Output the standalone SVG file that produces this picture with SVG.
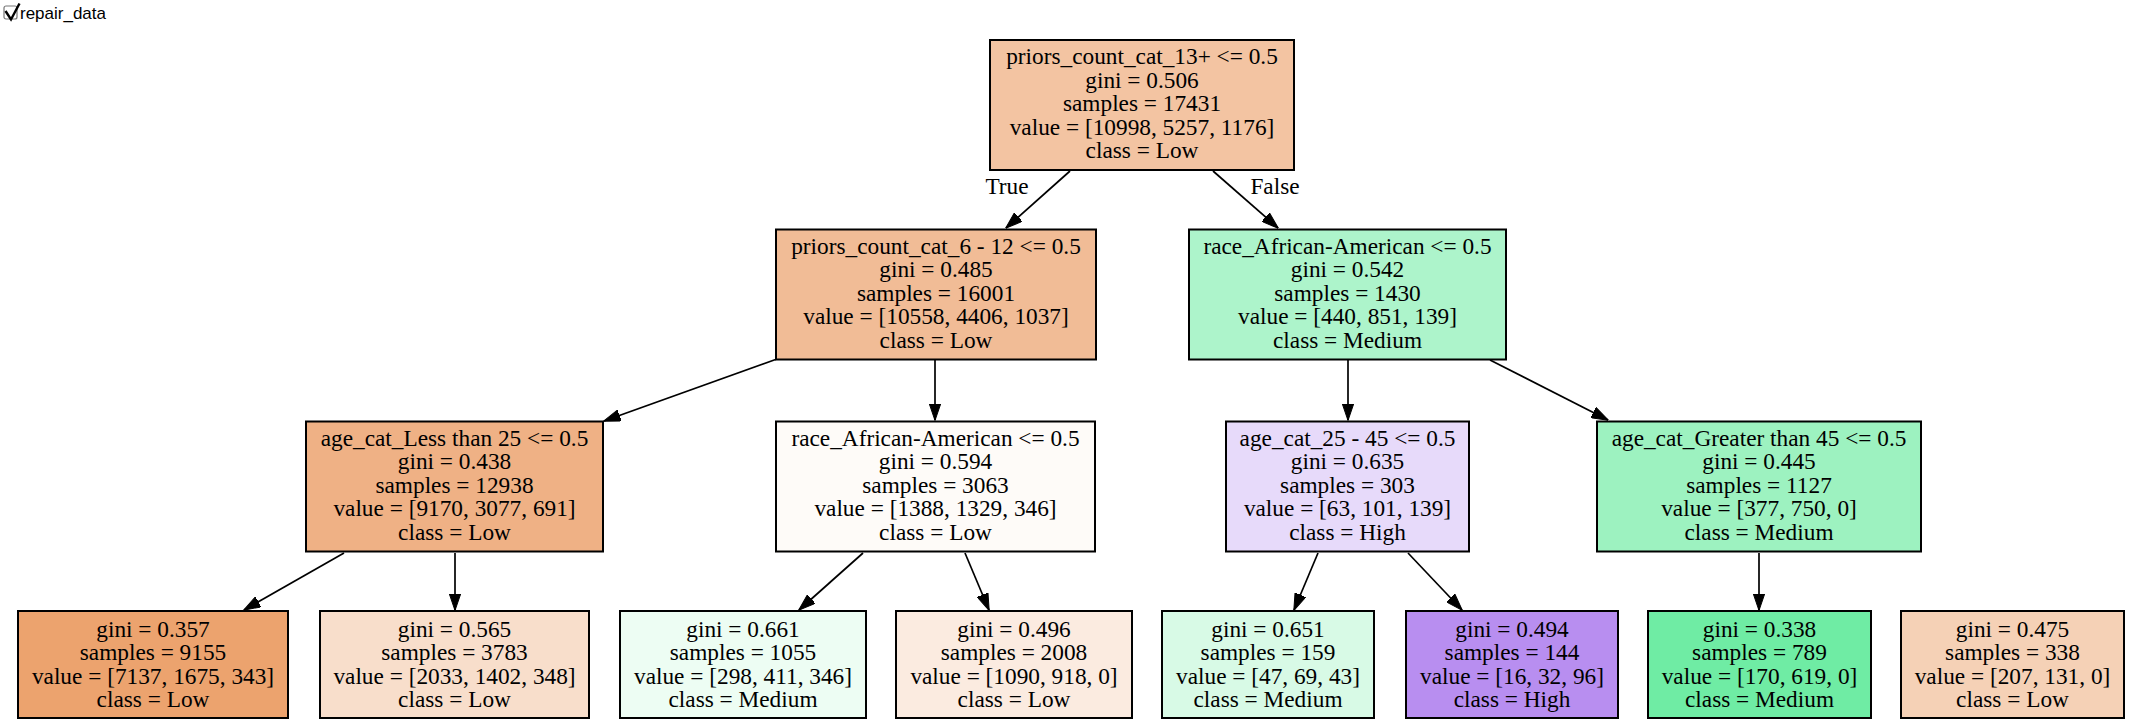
<svg xmlns="http://www.w3.org/2000/svg" width="2130" height="726" viewBox="0 0 2130 726">
  <style>
    .box { stroke: #000; stroke-width: 2; }
    .lbl { font-family: "Liberation Serif", "Times New Roman", serif; font-size: 23.3px; fill: #000; text-anchor: middle; }
    .edge { fill: none; stroke: #000; stroke-width: 1.7; marker-end: url(#arrow); }
    .hdr { font-family: "Liberation Sans", Arial, sans-serif; font-size: 17px; fill: #000; }
  </style>
  <defs>
    <marker id="arrow" viewBox="0 0 17 12" refX="16.5" refY="6" markerWidth="17" markerHeight="12" markerUnits="userSpaceOnUse" orient="auto">
      <path d="M0,0.2 L17,6 L0,11.8 Z" fill="#000" stroke="#000" stroke-width="1"/>
    </marker>
  </defs>
  <rect width="2130" height="726" fill="#fff"/>

  <!-- header checkbox -->
  <g id="header">
    <rect x="4" y="6" width="13" height="13" rx="2" fill="#fff" stroke="#767676" stroke-width="1.2"/>
    <path d="M5.5,11 L11,19.5 L19.5,3.5" fill="none" stroke="#000" stroke-width="2.4" stroke-linejoin="miter"/>
    <text class="hdr" x="20" y="19">repair_data</text>
  </g>

  <!-- connectors -->
  <g id="edges">
    <path class="edge" d="M1070,171 L1006,228"/>
    <path class="edge" d="M1213,171 L1278,228"/>
    <path class="edge" d="M777,359 L604,421"/>
    <path class="edge" d="M935,360 L935,420"/>
    <path class="edge" d="M1348,360 L1348,420"/>
    <path class="edge" d="M1490,360 L1608,420"/>
    <path class="edge" d="M344,553 L244,610"/>
    <path class="edge" d="M455,553 L455,610"/>
    <path class="edge" d="M863,553 L799,610"/>
    <path class="edge" d="M965,553 L989,610"/>
    <path class="edge" d="M1318,553 L1294,610"/>
    <path class="edge" d="M1408,553 L1462,610"/>
    <path class="edge" d="M1759,553 L1759,610"/>
    <text class="lbl" x="1007" y="194">True</text>
    <text class="lbl" x="1275" y="194">False</text>
  </g>

  <!-- root -->
  <g id="n0">
    <rect class="box" x="990" y="40" width="304" height="130" fill="#f3c4a2"/>
    <text class="lbl" x="1142" y="64">priors_count_cat_13+ &lt;= 0.5</text>
    <text class="lbl" x="1142" y="87.5">gini = 0.506</text>
    <text class="lbl" x="1142" y="111">samples = 17431</text>
    <text class="lbl" x="1142" y="134.5">value = [10998, 5257, 1176]</text>
    <text class="lbl" x="1142" y="158">class = Low</text>
  </g>

  <!-- level 1 -->
  <g id="n1">
    <rect class="box" x="776" y="229.5" width="320" height="130" fill="#f1bc96"/>
    <text class="lbl" x="936" y="253.5">priors_count_cat_6 - 12 &lt;= 0.5</text>
    <text class="lbl" x="936" y="277">gini = 0.485</text>
    <text class="lbl" x="936" y="300.5">samples = 16001</text>
    <text class="lbl" x="936" y="324">value = [10558, 4406, 1037]</text>
    <text class="lbl" x="936" y="347.5">class = Low</text>
  </g>
  <g id="n8">
    <rect class="box" x="1189" y="229.5" width="317" height="130" fill="#adf4cb"/>
    <text class="lbl" x="1347.5" y="253.5">race_African-American &lt;= 0.5</text>
    <text class="lbl" x="1347.5" y="277">gini = 0.542</text>
    <text class="lbl" x="1347.5" y="300.5">samples = 1430</text>
    <text class="lbl" x="1347.5" y="324">value = [440, 851, 139]</text>
    <text class="lbl" x="1347.5" y="347.5">class = Medium</text>
  </g>

  <!-- level 2 -->
  <g id="n2">
    <rect class="box" x="306" y="421.5" width="297" height="130" fill="#efb185"/>
    <text class="lbl" x="454.5" y="445.5">age_cat_Less than 25 &lt;= 0.5</text>
    <text class="lbl" x="454.5" y="469">gini = 0.438</text>
    <text class="lbl" x="454.5" y="492.5">samples = 12938</text>
    <text class="lbl" x="454.5" y="516">value = [9170, 3077, 691]</text>
    <text class="lbl" x="454.5" y="539.5">class = Low</text>
  </g>
  <g id="n5">
    <rect class="box" x="776" y="421.5" width="319" height="130" fill="#fefbf8"/>
    <text class="lbl" x="935.5" y="445.5">race_African-American &lt;= 0.5</text>
    <text class="lbl" x="935.5" y="469">gini = 0.594</text>
    <text class="lbl" x="935.5" y="492.5">samples = 3063</text>
    <text class="lbl" x="935.5" y="516">value = [1388, 1329, 346]</text>
    <text class="lbl" x="935.5" y="539.5">class = Low</text>
  </g>
  <g id="n9">
    <rect class="box" x="1226" y="421.5" width="243" height="130" fill="#e7dafa"/>
    <text class="lbl" x="1347.5" y="445.5">age_cat_25 - 45 &lt;= 0.5</text>
    <text class="lbl" x="1347.5" y="469">gini = 0.635</text>
    <text class="lbl" x="1347.5" y="492.5">samples = 303</text>
    <text class="lbl" x="1347.5" y="516">value = [63, 101, 139]</text>
    <text class="lbl" x="1347.5" y="539.5">class = High</text>
  </g>
  <g id="n12">
    <rect class="box" x="1597" y="421.5" width="324" height="130" fill="#9df2c0"/>
    <text class="lbl" x="1759" y="445.5">age_cat_Greater than 45 &lt;= 0.5</text>
    <text class="lbl" x="1759" y="469">gini = 0.445</text>
    <text class="lbl" x="1759" y="492.5">samples = 1127</text>
    <text class="lbl" x="1759" y="516">value = [377, 750, 0]</text>
    <text class="lbl" x="1759" y="539.5">class = Medium</text>
  </g>

  <!-- leaves -->
  <g id="n3">
    <rect class="box" x="18" y="611" width="270" height="107" fill="#eca36e"/>
    <text class="lbl" x="153" y="636.5">gini = 0.357</text>
    <text class="lbl" x="153" y="660">samples = 9155</text>
    <text class="lbl" x="153" y="683.5">value = [7137, 1675, 343]</text>
    <text class="lbl" x="153" y="707">class = Low</text>
  </g>
  <g id="n4">
    <rect class="box" x="320" y="611" width="269" height="107" fill="#f8decb"/>
    <text class="lbl" x="454.5" y="636.5">gini = 0.565</text>
    <text class="lbl" x="454.5" y="660">samples = 3783</text>
    <text class="lbl" x="454.5" y="683.5">value = [2033, 1402, 348]</text>
    <text class="lbl" x="454.5" y="707">class = Low</text>
  </g>
  <g id="n6">
    <rect class="box" x="620" y="611" width="246" height="107" fill="#edfdf3"/>
    <text class="lbl" x="743" y="636.5">gini = 0.661</text>
    <text class="lbl" x="743" y="660">samples = 1055</text>
    <text class="lbl" x="743" y="683.5">value = [298, 411, 346]</text>
    <text class="lbl" x="743" y="707">class = Medium</text>
  </g>
  <g id="n7">
    <rect class="box" x="896" y="611" width="236" height="107" fill="#fbebe0"/>
    <text class="lbl" x="1014" y="636.5">gini = 0.496</text>
    <text class="lbl" x="1014" y="660">samples = 2008</text>
    <text class="lbl" x="1014" y="683.5">value = [1090, 918, 0]</text>
    <text class="lbl" x="1014" y="707">class = Low</text>
  </g>
  <g id="n10">
    <rect class="box" x="1162" y="611" width="212" height="107" fill="#d8fae6"/>
    <text class="lbl" x="1268" y="636.5">gini = 0.651</text>
    <text class="lbl" x="1268" y="660">samples = 159</text>
    <text class="lbl" x="1268" y="683.5">value = [47, 69, 43]</text>
    <text class="lbl" x="1268" y="707">class = Medium</text>
  </g>
  <g id="n11">
    <rect class="box" x="1406" y="611" width="212" height="107" fill="#b88ef0"/>
    <text class="lbl" x="1512" y="636.5">gini = 0.494</text>
    <text class="lbl" x="1512" y="660">samples = 144</text>
    <text class="lbl" x="1512" y="683.5">value = [16, 32, 96]</text>
    <text class="lbl" x="1512" y="707">class = High</text>
  </g>
  <g id="n13">
    <rect class="box" x="1648" y="611" width="223" height="107" fill="#6feca4"/>
    <text class="lbl" x="1759.5" y="636.5">gini = 0.338</text>
    <text class="lbl" x="1759.5" y="660">samples = 789</text>
    <text class="lbl" x="1759.5" y="683.5">value = [170, 619, 0]</text>
    <text class="lbl" x="1759.5" y="707">class = Medium</text>
  </g>
  <g id="n14">
    <rect class="box" x="1901" y="611" width="223" height="107" fill="#f5d1b6"/>
    <text class="lbl" x="2012.5" y="636.5">gini = 0.475</text>
    <text class="lbl" x="2012.5" y="660">samples = 338</text>
    <text class="lbl" x="2012.5" y="683.5">value = [207, 131, 0]</text>
    <text class="lbl" x="2012.5" y="707">class = Low</text>
  </g>
</svg>
